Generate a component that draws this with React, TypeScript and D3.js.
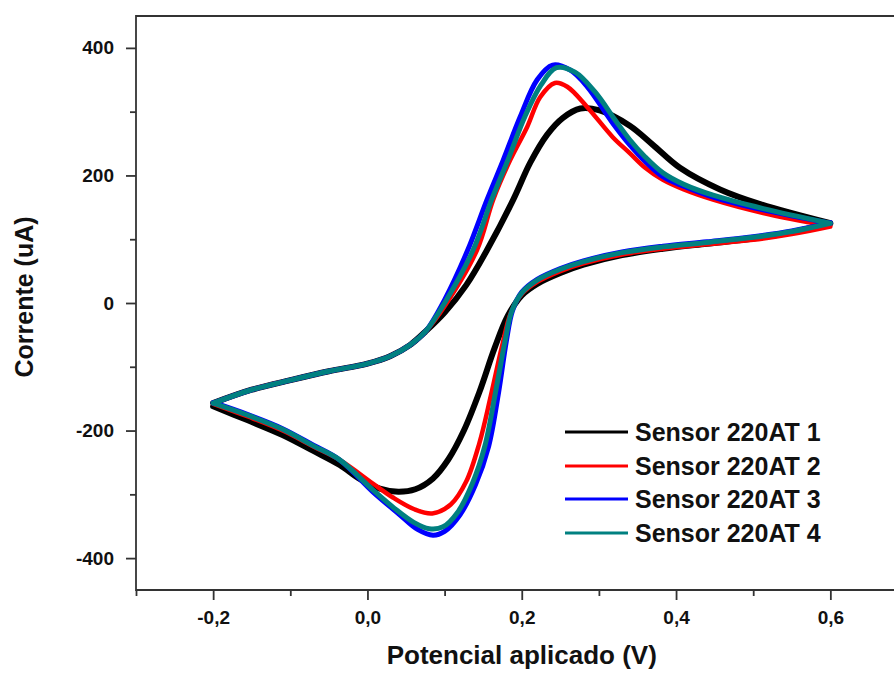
import React, { useRef, useEffect } from 'react';
import * as d3 from 'd3';

// tick values
const xTicks = [-0.2, 0, 0.2, 0.4, 0.6];
const xMinorTicks = [-0.3, -0.1, 0.1, 0.3, 0.5];
const yTicks = [-400, -200, 0, 200, 400];
const yMinorTicks = [-300, -100, 100, 300];

const seriesNames = ['Sensor 220AT 1', 'Sensor 220AT 2', 'Sensor 220AT 3', 'Sensor 220AT 4'];
const seriesColors = ['#000000', '#ff0000', '#0000ff', '#008080'];

// forward scan, shared start (V, uA)
const anodicStart = [[-0.2, -157], [-0.15, -136], [-0.1, -121], [-0.05, -107], [0, -95], [0.03, -83], [0.055, -66], [0.075, -45]];

const anodic1 = [[0.1, -15], [0.128, 28], [0.155, 83], [0.189, 162], [0.211, 220], [0.233, 264], [0.253, 290], [0.276, 305], [0.301, 302], [0.34, 278], [0.37, 248], [0.405, 212], [0.457, 178], [0.509, 155], [0.6, 125]];
const anodic2 = [[0.1, -5], [0.142, 83], [0.163, 162], [0.185, 224], [0.207, 276], [0.224, 323], [0.243, 345], [0.259, 339], [0.285, 307], [0.318, 260], [0.34, 235], [0.36, 212], [0.383, 193], [0.41, 178], [0.448, 162], [0.513, 141], [0.6, 120]];
const anodic3 = [[0.1, 5], [0.13, 83], [0.155, 162], [0.176, 224], [0.198, 292], [0.22, 350], [0.24, 373], [0.263, 365], [0.285, 339], [0.318, 282], [0.34, 248], [0.36, 222], [0.383, 198], [0.41, 183], [0.448, 166], [0.513, 146], [0.6, 125]];
const anodic4 = [[0.1, 0], [0.137, 83], [0.161, 162], [0.182, 224], [0.204, 292], [0.225, 342], [0.245, 369], [0.269, 362], [0.295, 331], [0.321, 287], [0.34, 256], [0.36, 229], [0.383, 204], [0.41, 186], [0.448, 169], [0.513, 148], [0.6, 125]];

// reverse scan (V, uA)
const cathodic1 = [[0.6, 125], [0.55, 111], [0.5, 101], [0.44, 93], [0.383, 85], [0.33, 75], [0.28, 60], [0.25, 47], [0.22, 30], [0.2, 12], [0.182, -20], [0.165, -70], [0.145, -140], [0.125, -200], [0.105, -245], [0.085, -275], [0.062, -292], [0.04, -296], [0.016, -291], [-0.01, -276], [-0.036, -254], [-0.07, -232], [-0.11, -207], [-0.155, -184], [-0.2, -162]];
const cathodic2 = [[0.6, 120], [0.55, 108], [0.5, 99], [0.44, 92], [0.383, 85], [0.33, 76], [0.28, 62], [0.25, 50], [0.22, 33], [0.2, 14], [0.186, -15], [0.174, -70], [0.16, -145], [0.145, -220], [0.128, -280], [0.108, -316], [0.084, -330], [0.06, -323], [0.033, -305], [0.007, -283], [-0.036, -246], [-0.07, -225], [-0.11, -200], [-0.155, -178], [-0.2, -158]];
const cathodic3 = [[0.6, 126], [0.55, 113], [0.5, 104], [0.44, 96], [0.383, 89], [0.33, 80], [0.28, 66], [0.25, 54], [0.22, 37], [0.2, 17], [0.188, -12], [0.18, -60], [0.17, -140], [0.157, -225], [0.14, -285], [0.12, -332], [0.1, -358], [0.085, -364], [0.065, -355], [0.04, -330], [0.007, -296], [-0.036, -246], [-0.07, -223], [-0.11, -197], [-0.155, -175], [-0.2, -156]];
const cathodic4 = [[0.6, 125], [0.55, 112], [0.5, 103], [0.44, 95], [0.383, 88], [0.33, 79], [0.28, 65], [0.25, 53], [0.22, 36], [0.2, 16], [0.187, -13], [0.178, -62], [0.166, -140], [0.152, -225], [0.136, -283], [0.117, -328], [0.098, -351], [0.08, -354], [0.06, -344], [0.035, -322], [0.007, -293], [-0.036, -246], [-0.07, -224], [-0.11, -198], [-0.155, -176], [-0.2, -157]];

const anodicScans = [anodic1, anodic2, anodic3, anodic4];
const cathodicScans = [cathodic1, cathodic2, cathodic3, cathodic4];
const strokeWidths = [6, 4.5, 5, 5];

const FONT = '"Liberation Sans", Arial, Helvetica, sans-serif';

const App = () => {
  const svgRef = useRef(null);
  const width = 894;
  const height = 673;

  useEffect(() => {
    const svg = d3.select(svgRef.current);
    svg.selectAll('*').remove();

    const left = 136, right = 907.5, top = 16, bottom = 590;
    const x = d3.scaleLinear().domain([-0.3, 0.7]).range([left, right]);
    const y = d3.scaleLinear().domain([-450, 450]).range([bottom, top]);
    const axisColor = '#333';

    // curves
    const line = d3.line()
      .x(d => x(d[0]))
      .y(d => y(d[1]))
      .curve(d3.curveCatmullRom.alpha(0.5));

    const curves = svg.append('g');
    anodicScans.forEach((a, i) => {
      curves.append('path')
        .attr('d', line(anodicStart.concat(a)) + line(cathodicScans[i]))
        .attr('fill', 'none')
        .attr('stroke', seriesColors[i])
        .attr('stroke-width', strokeWidths[i])
        .attr('stroke-linecap', 'round')
        .attr('stroke-linejoin', 'round');
    });

    // frame
    svg.append('path')
      .attr('d', `M${right},${top}H${left}V${bottom}H${right}`)
      .attr('fill', 'none')
      .attr('stroke', axisColor)
      .attr('stroke-width', 1.8);

    const styleAxis = g => {
      g.select('.domain').remove();
      g.selectAll('line').attr('stroke', axisColor).attr('stroke-width', 1.8);
      g.selectAll('text')
        .attr('fill', '#111')
        .style('font-family', FONT)
        .style('font-weight', 'bold')
        .style('font-size', '19px');
    };

    // y axis
    svg.append('g')
      .attr('transform', `translate(${left},0)`)
      .call(d3.axisLeft(y).tickValues(yMinorTicks).tickSize(6).tickFormat(() => ''))
      .call(styleAxis);
    svg.append('g')
      .attr('transform', `translate(${left},0)`)
      .call(d3.axisLeft(y).tickValues(yTicks).tickSize(10).tickPadding(12).tickFormat(d => String(d)))
      .call(styleAxis);

    // x axis
    svg.append('g')
      .attr('transform', `translate(0,${bottom})`)
      .call(d3.axisBottom(x).tickValues(xMinorTicks).tickSize(6).tickFormat(() => ''))
      .call(styleAxis);
    svg.append('g')
      .attr('transform', `translate(0,${bottom})`)
      .call(d3.axisBottom(x).tickValues(xTicks).tickSize(10).tickPadding(11).tickFormat(d => d.toFixed(1).replace('.', ',')))
      .call(styleAxis);

    // axis titles
    svg.append('text')
      .attr('x', (left + right) / 2)
      .attr('y', 664)
      .attr('text-anchor', 'middle')
      .style('font-family', FONT)
      .style('font-weight', 'bold')
      .style('font-size', '26px')
      .attr('fill', '#111')
      .text('Potencial aplicado (V)');

    svg.append('text')
      .attr('transform', 'translate(33,297) rotate(-90)')
      .attr('text-anchor', 'middle')
      .style('font-family', FONT)
      .style('font-weight', 'bold')
      .style('font-size', '25px')
      .attr('fill', '#111')
      .text('Corrente (uA)');

    // legend
    const legend = svg.append('g');
    const rowY = [432, 466, 499, 533];
    seriesNames.forEach((name, i) => {
      legend.append('line')
        .attr('x1', 565).attr('x2', 628)
        .attr('y1', rowY[i]).attr('y2', rowY[i])
        .attr('stroke', seriesColors[i])
        .attr('stroke-width', 3);
      legend.append('text')
        .attr('x', 635)
        .attr('y', rowY[i] + 9)
        .style('font-family', FONT)
        .style('font-weight', 'bold')
        .style('font-size', '25px')
        .attr('fill', '#111')
        .text(name);
    });
  }, []);

  return (
    <svg
      ref={svgRef}
      width={width}
      height={height}
      style={{ position: 'absolute', left: 0, top: 0, background: '#fff' }}
    />
  );
};

export default App;
